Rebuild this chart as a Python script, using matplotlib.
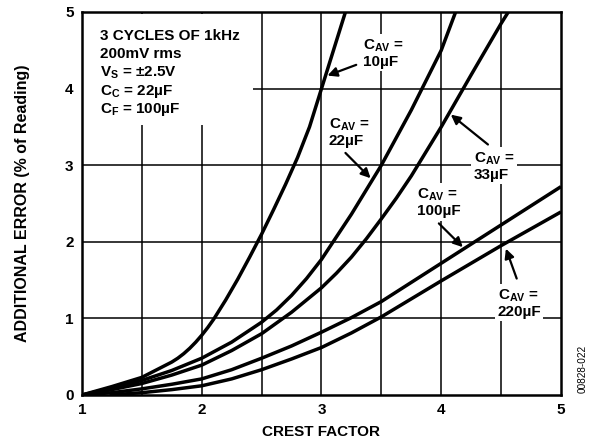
import matplotlib
matplotlib.use("Agg")
import matplotlib.pyplot as plt
from matplotlib.patches import Rectangle

plt.rcParams["font.family"] = ["Liberation Sans", "DejaVu Sans"]
plt.rcParams["font.weight"] = "bold"
plt.rcParams["font.size"] = 11
plt.rcParams["mathtext.fontset"] = "custom"
plt.rcParams["mathtext.rm"] = "Liberation Sans:bold"
plt.rcParams["mathtext.it"] = "Liberation Sans:bold"
plt.rcParams["mathtext.bf"] = "Liberation Sans:bold"

# curves: crest factor vs additional error (%)
cf_10 = [1.0, 1.25, 1.5, 1.75, 1.8, 1.85, 1.9, 1.95, 2.0, 2.05, 2.1, 2.2, 2.3, 2.4,
         2.5, 2.6, 2.7, 2.8, 2.9, 3.0, 3.1, 3.2]
err_10 = [0.0, 0.11, 0.23, 0.43, 0.48, 0.54, 0.61, 0.69, 0.78, 0.88, 0.99, 1.24,
          1.51, 1.8, 2.1, 2.42, 2.75, 3.1, 3.5, 4.0, 4.5, 5.0]

cf_22 = [1.0, 1.25, 1.5, 1.75, 2.0, 2.25, 2.5, 2.625, 2.75, 2.875, 3.0, 3.25, 3.5,
         3.75, 4.0, 4.12]
err_22 = [0.0, 0.09, 0.19, 0.32, 0.48, 0.69, 0.95, 1.11, 1.30, 1.52, 1.77, 2.36,
          3.0, 3.72, 4.5, 5.0]

cf_33 = [1.0, 1.25, 1.5, 1.75, 2.0, 2.25, 2.5, 2.75, 3.0, 3.125, 3.25, 3.375, 3.5,
         3.625, 3.75, 4.0, 4.25, 4.5, 4.56]
err_33 = [0.0, 0.07, 0.15, 0.26, 0.39, 0.58, 0.8, 1.08, 1.4, 1.59, 1.8, 2.04, 2.3,
          2.57, 2.86, 3.5, 4.18, 4.85, 5.0]

cf_100 = [1.0, 1.25, 1.5, 1.75, 2.0, 2.25, 2.5, 2.75, 3.0, 3.25, 3.5, 4.0, 4.5, 5.0]
err_100 = [0.0, 0.03, 0.08, 0.14, 0.21, 0.33, 0.48, 0.64, 0.82, 1.01, 1.22, 1.72,
           2.22, 2.72]

cf_220 = [1.23, 1.5, 1.75, 2.0, 2.25, 2.5, 2.75, 3.0, 3.25, 3.5, 4.0, 4.5, 5.0]
err_220 = [0.0, 0.03, 0.07, 0.12, 0.21, 0.33, 0.47, 0.62, 0.81, 1.02, 1.49, 1.95, 2.39]

curves = [(cf_10, err_10), (cf_22, err_22), (cf_33, err_33),
          (cf_100, err_100), (cf_220, err_220)]

xticks = [1, 2, 3, 4, 5]
yticks = [0, 1, 2, 3, 4, 5]

info_lines = ["3 CYCLES OF 1kHz", "200mV rms", r"V$_\mathrm{S}$ = ±2.5V",
              r"C$_\mathrm{C}$ = 22µF", r"C$_\mathrm{F}$ = 100µF"]

# (label, text pos, arrow tail, arrow tip)
labels = [
    ("10µF", (3.35, 4.46), (3.29, 4.31), (3.05, 4.17)),
    ("22µF", (3.06, 3.43), (3.20, 3.16), (3.41, 2.83)),
    ("33µF", (4.27, 2.99), (4.39, 3.27), (4.08, 3.66)),
    ("100µF", (3.80, 2.51), (3.98, 2.24), (4.18, 1.93)),
    ("220µF", (4.47, 1.20), (4.63, 1.52), (4.54, 1.91)),
]

fig = plt.figure(figsize=(6.02, 4.44), dpi=100)
ax = fig.add_axes([0.1362, 0.1104, 0.7957, 0.8626])

for x in [1.5, 2, 2.5, 3, 3.5, 4, 4.5]:
    ax.axvline(x, color="black", lw=1.1, zorder=1)
for y in [1, 2, 3, 4]:
    ax.axhline(y, color="black", lw=1.1, zorder=1)

for xs, ys in curves:
    ax.plot(xs, ys, color="black", lw=2.5, solid_capstyle="butt",
            solid_joinstyle="round", zorder=3)

ax.set_xlim(1, 5)
ax.set_ylim(0, 5)
ax.set_xticks(xticks)
ax.set_yticks(yticks)
ax.tick_params(length=0, labelsize=11)
ax.tick_params(axis="x", pad=6)
ax.tick_params(axis="y", pad=6)
for sp in ax.spines.values():
    sp.set_linewidth(1.8)
    sp.set_zorder(5)

# info block
ax.add_patch(Rectangle((1.0, 3.53), 1.43, 1.44, facecolor="white",
                       edgecolor="none", zorder=2))
info_y = [4.68, 4.45, 4.21, 3.96, 3.73]
for txt, yy in zip(info_lines, info_y):
    ax.text(1.15, yy, txt, ha="left", va="center", fontsize=11, zorder=4)

for val, tpos, tail, tip in labels:
    ax.text(tpos[0], tpos[1], "C$_\\mathrm{AV}$ =\n" + val, ha="left", va="center",
            fontsize=11, linespacing=1.1, zorder=4,
            bbox=dict(facecolor="white", edgecolor="none", pad=1.5))
    ax.annotate("", xy=tip, xytext=tail, zorder=4,
                arrowprops=dict(arrowstyle="-|>", lw=1.6, color="black",
                                mutation_scale=14, shrinkA=0, shrinkB=0))

fig.text(0.0374, 0.543, "ADDITIONAL ERROR (% of Reading)", rotation=90,
         ha="center", va="center", fontsize=11.5)
fig.text(0.533, 0.026, "CREST FACTOR", ha="center", va="center", fontsize=11)
fig.text(0.968, 0.169, "00828-022", rotation=90, ha="center", va="center",
         fontsize=7.2, fontweight="normal")

fig.savefig("out.png", dpi=100)
